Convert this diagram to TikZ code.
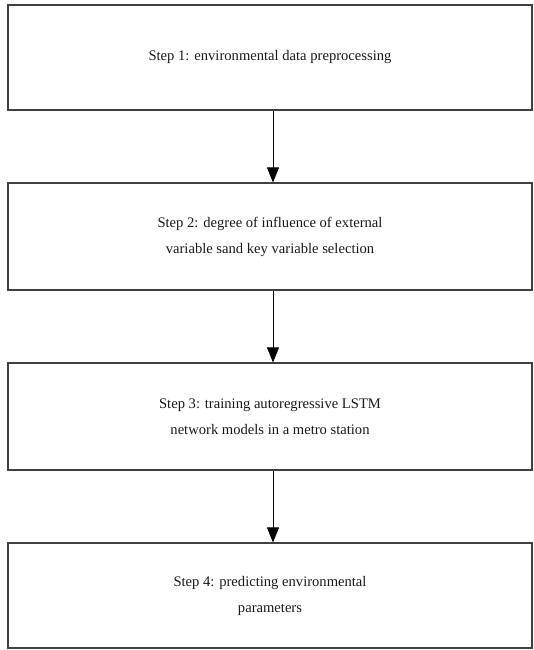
\documentclass[tikz,border=0pt]{standalone}
\usepackage{fontspec}
\setmainfont{Liberation Serif}
\usepackage{tikz}
\usetikzlibrary{positioning,arrows.meta}

\begin{document}
\begin{tikzpicture}[x=1pt,y=1pt,
  box/.style={draw=black!75,line width=1.1pt,minimum width=524pt,align=center,inner sep=0pt,font=\fontsize{14.6}{26}\selectfont,text=black!90},
  arr/.style={draw=black,line width=0.8pt,-{Triangle[width=12pt,length=15pt]}}]
\useasboundingbox (0,0) rectangle (533,-650);
\node[box,minimum height=105pt] (s1) at (270,-57.5) {Step 1: environmental data preprocessing};
\node[box,minimum height=107pt] (s2) at (270,-236.5) {Step 2: degree of influence of external\\variable sand key variable selection};
\node[box,minimum height=107pt] (s3) at (270,-416.5) {Step 3: training autoregressive LSTM\\network models in a metro station};
\node[box,minimum height=105pt] (s4) at (270,-595.5) {Step 4: predicting environmental\\parameters};
\draw[arr] ([xshift=3pt]s1.south) -- ([xshift=3pt]s2.north);
\draw[arr] ([xshift=3pt]s2.south) -- ([xshift=3pt]s3.north);
\draw[arr] ([xshift=3pt]s3.south) -- ([xshift=3pt]s4.north);
\end{tikzpicture}
\end{document}
